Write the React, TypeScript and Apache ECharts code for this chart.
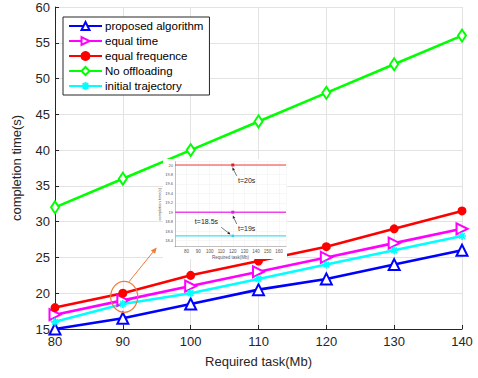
import React, { useEffect, useRef } from "react";
import * as echarts from "echarts";

const tasks = [80, 90, 100, 110, 120, 130, 140];
const proposed = [15, 16.5, 18.5, 20.5, 22, 24, 26];
const equalTime = [17, 19, 21, 23, 25, 27, 29];
const equalFreq = [18, 20, 22.5, 24.5, 26.5, 29, 31.5];
const noOffload = [32, 36, 40, 44, 48, 52, 56];
const initialTraj = [16, 18.5, 20, 22, 24, 26, 28];

// inset (zoomed view) values
const insetXs = [70, 120, 166];
const insetRed = 20;
const insetMagenta = 19;
const insetCyan = 18.5;

const FONT = "Liberation Sans, Arial, sans-serif";
const ASTERISK = "path://M0,5L10,5M5,0L5,10M1.5,1.5L8.5,8.5M8.5,1.5L1.5,8.5";

function pairs(ys: number[]) {
  return tasks.map((x, i) => [x, ys[i]]);
}

function insetLine(y: number) {
  return insetXs.map((x) => ({
    value: [x, y],
    symbol: x === 120 ? "rect" : "none",
  }));
}

function arrow(p0: number[], p1: number[], color: string, width: number, head: number) {
  const dx = p1[0] - p0[0];
  const dy = p1[1] - p0[1];
  const len = Math.sqrt(dx * dx + dy * dy) || 1;
  const ux = dx / len;
  const uy = dy / len;
  const bx = p1[0] - ux * head;
  const by = p1[1] - uy * head;
  const hw = head * 0.45;
  return [
    {
      type: "line",
      z: 70,
      shape: { x1: p0[0], y1: p0[1], x2: bx, y2: by },
      style: { stroke: color, lineWidth: width },
    },
    {
      type: "polygon",
      z: 70,
      shape: {
        points: [
          [p1[0], p1[1]],
          [bx - uy * hw, by + ux * hw],
          [bx + uy * hw, by - ux * hw],
        ],
      },
      style: { fill: color },
    },
  ];
}

export default function App() {
  const ref = useRef<HTMLDivElement>(null);
  useEffect(() => {
    if (!ref.current) return;
    const chart = echarts.init(ref.current, undefined, { renderer: "svg" });
    const axisColor = "#262626";
    const mkMain = (name: string, color: string, data: number[], symbol: string, size: any, extra: any = {}) => ({
      name,
      type: "line",
      xAxisIndex: 0,
      yAxisIndex: 0,
      data: pairs(data),
      symbol,
      symbolSize: size,
      lineStyle: { color, width: 2.6 },
      itemStyle: { color, borderColor: color, borderWidth: 2 },
      ...extra,
    });
    const option: any = {
      animation: false,
      backgroundColor: "#ffffff",
      textStyle: { fontFamily: FONT },
      grid: [
        { left: 55, right: 16, top: 7, bottom: 49 },
        { left: 175, top: 161.7, width: 111, height: 85 },
      ],
      legend: {
        left: 63,
        top: 17,
        orient: "vertical",
        itemWidth: 33,
        itemHeight: 10,
        itemGap: 3,
        padding: [3, 6, 3, 5],
        backgroundColor: "#ffffff",
        borderColor: axisColor,
        borderWidth: 1,
        borderRadius: 0,
        textStyle: { fontFamily: FONT, fontSize: 11.5, lineHeight: 12, color: "#000", padding: [0, 0, 0, -2] },
        data: ["proposed algorithm", "equal time", "equal frequence", "No offloading", "initial trajectory"],
      },
      xAxis: [
        {
          type: "value",
          gridIndex: 0,
          min: 80,
          max: 140,
          interval: 10,
          name: "Required task(Mb)",
          nameLocation: "middle",
          nameGap: 26,
          nameTextStyle: { fontFamily: FONT, fontSize: 13, color: axisColor },
          axisLine: { lineStyle: { color: axisColor, width: 1 } },
          axisTick: { inside: true, length: 4, lineStyle: { color: axisColor } },
          axisLabel: { fontFamily: FONT, fontSize: 13, color: axisColor, margin: 6 },
          splitLine: { show: true, lineStyle: { color: "#e3e3e3", width: 1 } },
        },
        {
          type: "value",
          gridIndex: 1,
          min: 70,
          max: 166,
          interval: 10,
          z: 60,
          name: "Required task(Mb)",
          nameLocation: "middle",
          nameGap: 6,
          nameTextStyle: { fontFamily: FONT, fontSize: 4.5, color: "#555" },
          axisLine: { lineStyle: { color: "#888", width: 0.5 } },
          axisTick: { show: false },
          axisLabel: { fontFamily: FONT, fontSize: 4.5, color: "#555", margin: 2, showMinLabel: false, showMaxLabel: false },
          splitLine: { show: true, lineStyle: { color: "#eeeeee", width: 0.5 } },
        },
      ],
      yAxis: [
        {
          type: "value",
          gridIndex: 0,
          min: 15,
          max: 60,
          interval: 5,
          name: "completion time(s)",
          nameLocation: "middle",
          nameGap: 32,
          nameTextStyle: { fontFamily: FONT, fontSize: 13, color: axisColor },
          axisLine: { show: true, lineStyle: { color: axisColor, width: 1 } },
          axisTick: { show: true, inside: true, length: 4, lineStyle: { color: axisColor } },
          axisLabel: { fontFamily: FONT, fontSize: 13, color: axisColor, margin: 5 },
          splitLine: { show: true, lineStyle: { color: "#e3e3e3", width: 1 } },
        },
        {
          type: "value",
          gridIndex: 1,
          min: 18.27,
          max: 20.07,
          splitNumber: 9,
          z: 60,
          name: "completion time(s)",
          nameLocation: "middle",
          nameGap: 9,
          nameTextStyle: { fontFamily: FONT, fontSize: 4, color: "#555" },
          axisLine: { show: true, lineStyle: { color: "#888", width: 0.5 } },
          axisTick: { show: false },
          axisLabel: { fontFamily: FONT, fontSize: 4, color: "#555", margin: 2, showMinLabel: false, showMaxLabel: false },
          splitLine: { show: true, lineStyle: { color: "#eeeeee", width: 0.5 } },
        },
      ],
      series: [
        mkMain("proposed algorithm", "#0000ff", proposed, "emptyTriangle", 11),
        mkMain("equal time", "#ff00ff", equalTime, "emptyTriangle", 11, { symbolRotate: -90 }),
        mkMain("equal frequence", "#ff0000", equalFreq, "circle", 7),
        mkMain("No offloading", "#00ff00", noOffload, "emptyDiamond", [8, 12]),
        mkMain("initial trajectory", "#00ffff", initialTraj, ASTERISK, 8, {
          itemStyle: { color: "#00ffff", borderColor: "#00ffff", borderWidth: 1.6 },
        }),
        {
          name: "inset-red",
          type: "line",
          xAxisIndex: 1,
          yAxisIndex: 1,
          z: 62,
          data: insetLine(insetRed),
          symbolSize: 3,
          lineStyle: { color: "#ee3a3a", width: 1 },
          itemStyle: { color: "#e02020" },
        },
        {
          name: "inset-magenta",
          type: "line",
          xAxisIndex: 1,
          yAxisIndex: 1,
          z: 62,
          data: insetLine(insetMagenta),
          symbolSize: 3,
          lineStyle: { color: "#ee44ee", width: 1.4 },
          itemStyle: { color: "#e020e0" },
        },
        {
          name: "inset-cyan",
          type: "line",
          xAxisIndex: 1,
          yAxisIndex: 1,
          z: 62,
          data: insetLine(insetCyan),
          symbolSize: 2.5,
          lineStyle: { color: "#44ddf0", width: 1.4 },
          itemStyle: { color: "#30d0e8" },
        },
      ],
    };
    chart.setOption(option);

    const m = (x: number, y: number) => chart.convertToPixel({ xAxisIndex: 0, yAxisIndex: 0 }, [x, y]) as number[];
    const s = (x: number, y: number) => chart.convertToPixel({ xAxisIndex: 1, yAxisIndex: 1 }, [x, y]) as number[];
    const c = m(90.2, 19.5);
    const orange = "#f07a3a";
    const txt = (p: number[], text: string) => ({
      type: "text",
      z: 70,
      x: p[0],
      y: p[1],
      style: { text, fill: "#222", fontSize: 7, fontFamily: FONT, align: "center", verticalAlign: "middle" },
    });
    const graphic: any[] = [
      {
        type: "rect",
        z: 50,
        shape: { x: 163, y: 159, width: 124, height: 100 },
        style: { fill: "#ffffff" },
      },
      {
        type: "ellipse",
        z: 65,
        shape: { cx: c[0], cy: c[1], rx: 13.5, ry: 15.5 },
        style: { fill: "none", stroke: orange, lineWidth: 1.2 },
      },
      ...arrow(m(90.9, 21.6), m(95.0, 26.4), orange, 1, 6),
      ...arrow(s(123.4, 19.77), s(119.6, 19.95), "#222", 0.6, 3),
      ...arrow(s(123.4, 18.75), s(120, 18.93), "#222", 0.6, 3),
      ...arrow(s(110, 18.68), s(118, 18.53), "#222", 0.6, 3),
      txt(s(132, 19.67), "t=20s"),
      txt(s(132, 18.65), "t=19s"),
      txt(s(97.2, 18.81), "t=18.5s"),
    ];
    chart.setOption({ graphic });
    return () => chart.dispose();
  }, []);
  return (
    <div style={{ position: "absolute", left: 0, top: 0 }}>
      <div ref={ref} style={{ width: 478, height: 378 }} />
    </div>
  );
}
